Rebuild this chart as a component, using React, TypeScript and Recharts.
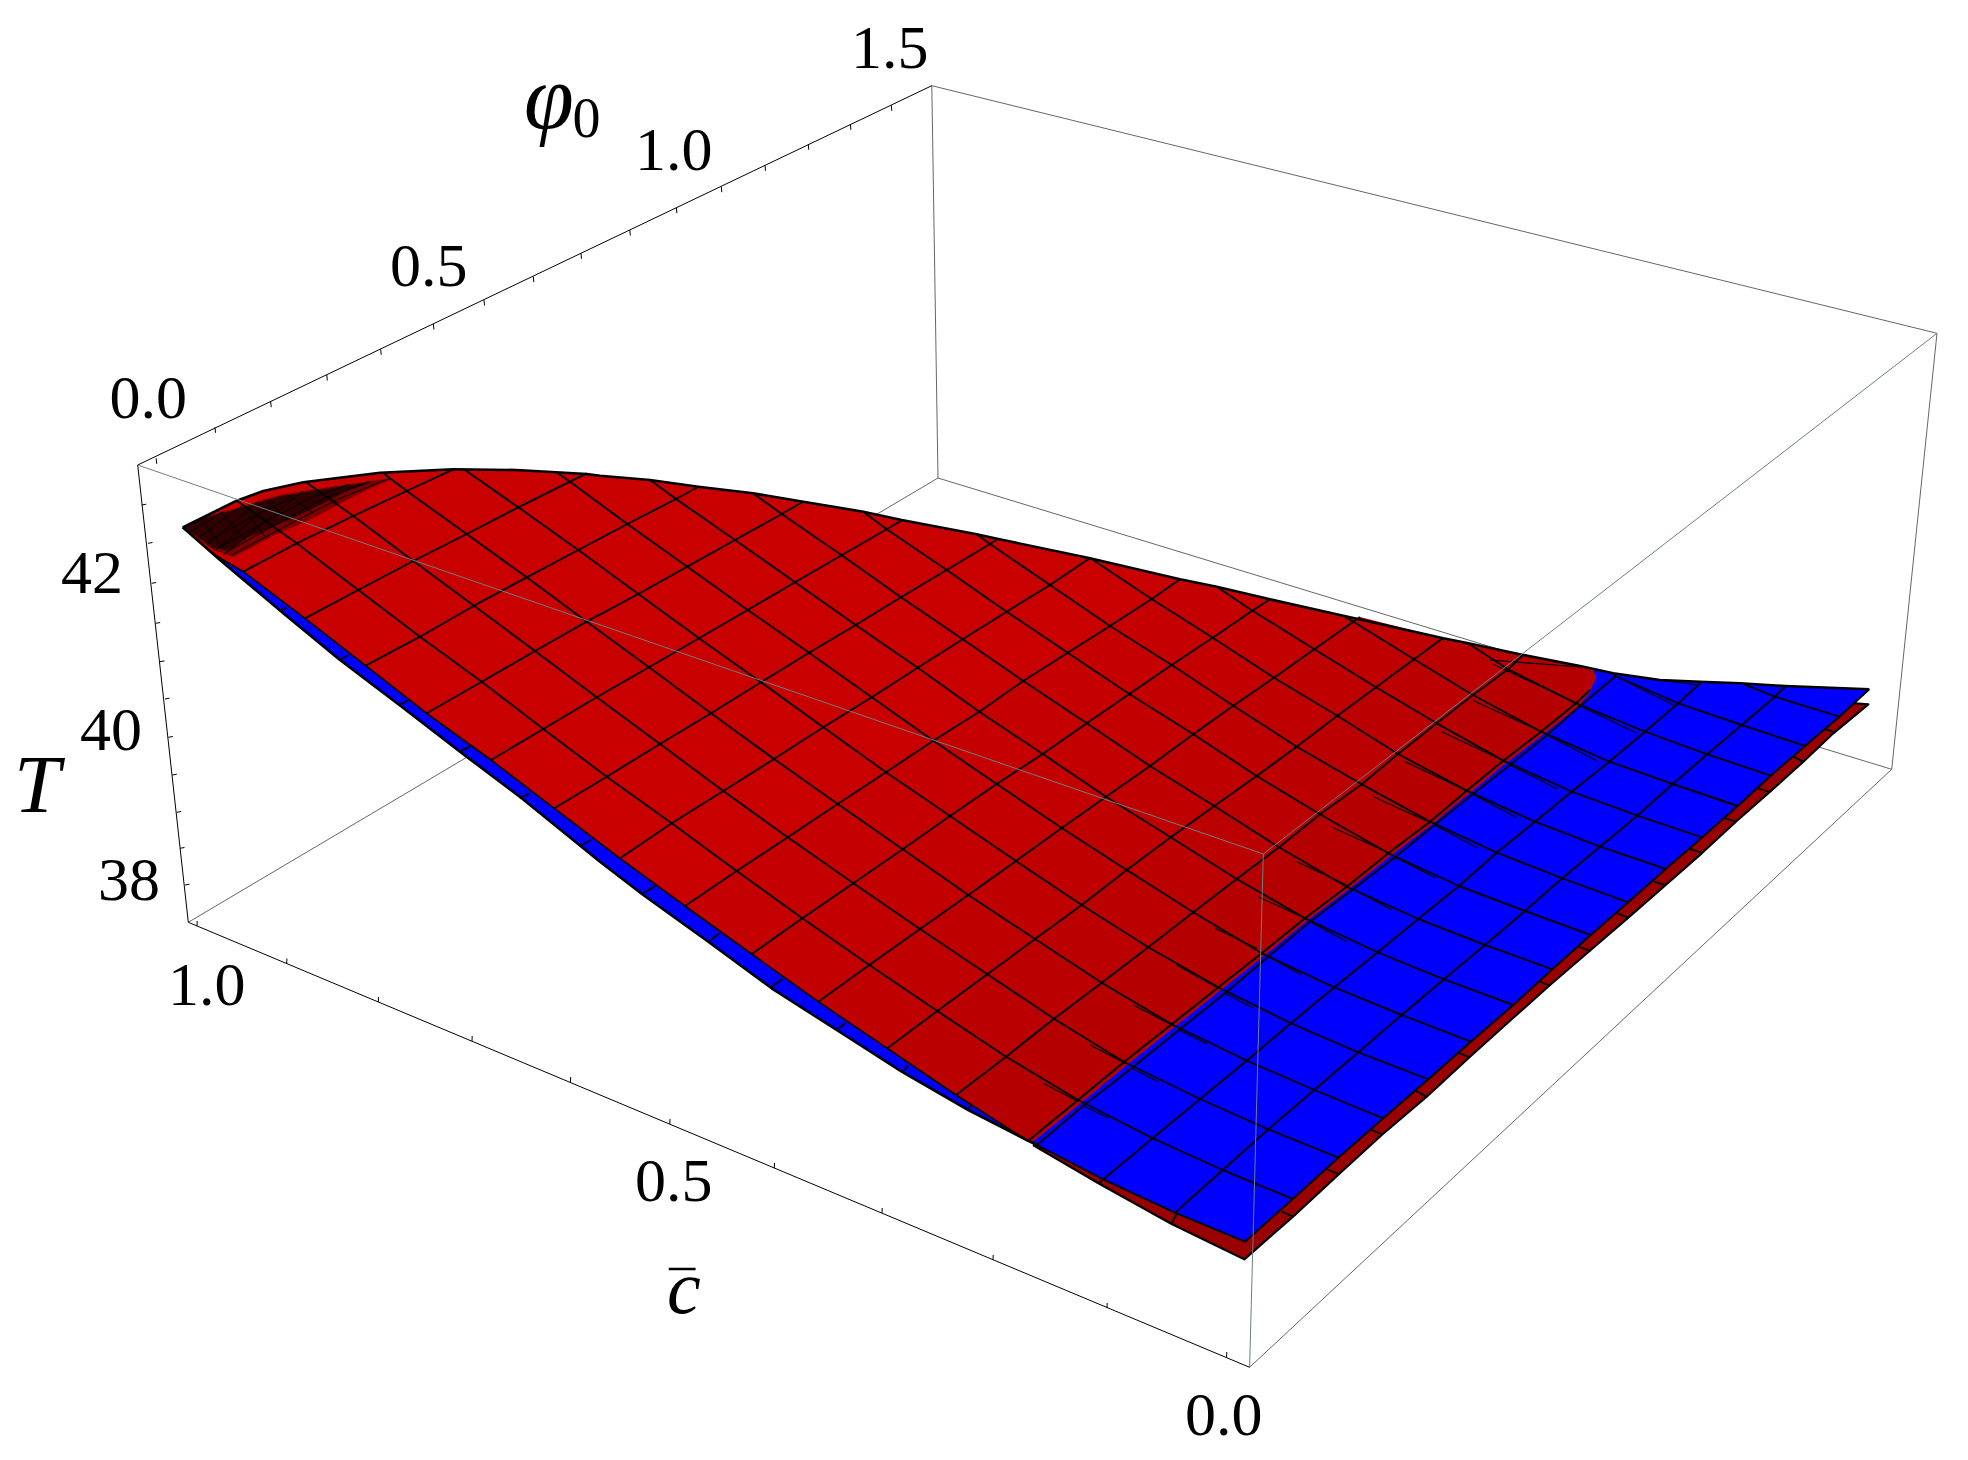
import { ScatterChart, Scatter, XAxis, YAxis } from "recharts";

type P = [number, number];

// picture coordinates (the 3D view is flat here)
const boxBack: P[][] = [
  [[938, 478], [188.3, 922.3]],
  [[938, 478], [1891.7, 769.3]],
];
const boxOuter: P[][] = [
  [[137.7, 465], [931.8, 85.7]],
  [[137.7, 465], [188.3, 922.3]],
  [[188.3, 922.3], [1249.6, 1367.3]],
];
const boxGrey: P[][] = [
  [[931.8, 85.7], [938, 478]],
  [[931.8, 85.7], [1937, 333.3]],
  [[1937, 333.3], [1891.7, 769.3]],
  [[1891.7, 769.3], [1249.6, 1367.3]],
];
const boxFront: P[][] = [
  [[137.7, 465], [1263.3, 854]],
  [[1937, 333.3], [1263.3, 854]],
  [[1263.3, 854], [1249.6, 1367.3]],
];

const phiTicks: P[] = [[156.2, 458.3], [215, 427.3], [270.7, 401.7], [326.8, 375], [380.7, 349.3], [433.4, 324], [484, 300], [533.3, 276.7], [581, 253.3], [629.8, 230], [676.4, 207.7], [721.3, 186.7], [765, 165.3], [808.3, 144.3], [850.4, 124.3], [891.3, 105.3]];
const tempTicks: P[] = [[141.7, 505], [148, 543.3], [151.7, 583.3], [155.7, 623.3], [160, 661.7], [165, 699], [168.3, 737.3], [172.3, 775], [176.7, 812.3], [180, 848.3], [185, 885]];
const concTicks: P[] = [[197, 926], [286.7, 963.5], [378.3, 1002], [472, 1041], [570.5, 1082], [669.8, 1124], [774.3, 1168], [882, 1213], [993, 1260], [1107, 1308], [1226.6, 1357]];

// top silhouette of the surface, left to right
const topEdge: P[] = [[182.7, 527.3], [236.7, 500.7], [263.3, 491], [303.3, 482.3], [380, 472.7], [453.3, 469.3], [516.7, 470], [586.7, 474], [600, 475.7], [650, 480], [698.3, 486.7], [753.3, 493.3], [803.3, 501.7], [863.3, 511.7], [901.7, 520], [976.7, 534.3], [998.3, 539], [1090, 558.3], [1180, 579.3], [1216.7, 586.7], [1270, 599.3], [1343.3, 615.7], [1443.3, 638.3], [1468.3, 643.3], [1523.3, 655], [1580, 666], [1613.3, 673.3], [1660, 680], [1700, 681.7], [1740, 683.3], [1785, 686], [1869.3, 689.3]];
// lower-left silhouette of the blue sheet
const blueFront: P[] = [[182.7, 527.3], [220, 560], [283.3, 613.3], [340, 660], [401.7, 706.7], [460, 751.7], [521.7, 798.3], [600, 861.7], [643.3, 895], [708.3, 941.7], [771.7, 988.3], [836.7, 1030], [901.7, 1071.7], [968.3, 1110], [1026.7, 1140], [1037, 1145]];
const blueFrontRight: P[] = [[1037, 1145], [1103.3, 1179.3], [1175, 1212.7], [1245, 1241.7]];
const blueRight: P[] = [[1245, 1241.7], [1292.7, 1199], [1338.3, 1157.7], [1383.3, 1118.3], [1428.3, 1079.3], [1470.7, 1041.7], [1513.3, 1005], [1552.3, 969.3], [1590.7, 935], [1628.3, 902.3], [1665.7, 869], [1702.3, 837.3], [1737.7, 806], [1770.7, 775.7], [1805, 746], [1839.3, 716.7], [1869.3, 689.3]];
// red sheet showing under the blue one
const underRed: P[] = [[1033, 1145], [1098, 1183], [1171.7, 1224], [1244.3, 1259.3], [1293, 1216.7], [1338, 1175], [1381.7, 1135], [1426.7, 1096.7], [1470, 1056.7], [1513, 1018], [1550, 985], [1590.7, 950], [1628.3, 917.7], [1665.7, 885], [1701.7, 853.3], [1736.7, 821], [1770, 791.7], [1803.3, 761.7], [1833.3, 733.3], [1868.3, 704.3], [1855, 703.3]];
const redTip: P[] = [[1593, 669.5], [1595.7, 678.3], [1590, 690]];
const redFrontLeft: P[] = [[182.7, 527.3], [215, 555]];

// mesh: each row is one "/" line, front point first, then its crossings with the "\" lines, top point last
const meshRows: P[][] = [
  [[243.3, 571.7], [296.7, 543.3], [353.3, 516], [406.7, 491], [453.3, 469.3]],
  [[305, 618.3], [358.3, 590], [413.3, 561], [466.7, 534], [518.3, 507.3], [570, 481.7], [586.7, 473.3]],
  [[365.7, 665.7], [420, 636.7], [474, 605.7], [526.7, 577.3], [578.3, 550], [627.3, 524], [676, 499], [698, 487]],
  [[426.7, 713.3], [481.7, 681.7], [535, 651], [586.7, 621.7], [638.3, 594], [687.3, 566.7], [735, 540], [781.7, 514], [803, 501.7]],
  [[491, 760], [543.3, 729], [596.7, 697.3], [649, 667.3], [699, 638.3], [747.7, 610], [795, 582.3], [841.7, 555.3], [886.7, 529.3], [902.3, 520]],
  [[554.3, 808.3], [606.7, 776.7], [660, 744], [711, 713.3], [761, 682.3], [809, 652.7], [855.7, 625], [901, 597.3], [946.7, 570], [990, 544], [998, 539]],
  [[620, 858.3], [671.7, 823.3], [723.3, 791], [774, 759], [823.3, 727.3], [871.7, 697.3], [917.7, 667.7], [962.7, 639.3], [1006.7, 611.7], [1050, 585], [1090, 558]],
  [[685, 906], [736.7, 871], [787.7, 837.3], [837.7, 804], [886, 772.3], [933.3, 740.7], [979.3, 711.7], [1023.3, 681], [1067.7, 652.7], [1110, 626], [1151.7, 599], [1180, 579.3]],
  [[751.7, 954], [802.3, 918.3], [853.3, 883.3], [902.7, 849.3], [950, 816], [996.7, 784], [1042.7, 754], [1086.7, 723.3], [1129.3, 694], [1171.7, 665], [1212.7, 637.7], [1252.3, 610.7], [1270, 599.3]],
  [[818.3, 1001.7], [869.3, 965], [920, 929], [968.3, 895], [1016, 861], [1061.7, 828], [1106, 796.7], [1150, 766], [1193.3, 734.3], [1233.3, 705.7], [1274, 677.7], [1314.3, 649.3], [1353.3, 621.7], [1360, 617]],
  [[887.3, 1048.3], [937.3, 1011], [987.3, 974.3], [1035, 939], [1081.7, 905], [1126.7, 870], [1170.7, 837.3], [1214.3, 806], [1256.7, 776], [1296.7, 746.7], [1337.3, 715.7], [1376, 687.3], [1414, 659.3], [1442.7, 638.3]],
  [[956, 1095], [1006, 1056.7], [1054, 1018.7], [1101.7, 982.7], [1148.3, 947.3], [1193.3, 912.2], [1236.7, 879], [1279, 847.3], [1320, 814.3], [1361.7, 784.3], [1398, 754], [1436.7, 723.3], [1473, 695], [1508, 669.3], [1523, 655]],
  [[1028, 1141], [1078, 1100], [1124, 1062], [1171.7, 1024.3], [1218.3, 987.3], [1261.7, 953.3], [1305, 918.3], [1346.7, 886.7], [1388.3, 853.3], [1430, 821.7], [1466.7, 790.7], [1503.3, 760.7], [1541, 731.7], [1576, 703.3], [1590, 690]],
  [[1103.3, 1179.3], [1152.7, 1138.3], [1200, 1099], [1246.7, 1060.7], [1291, 1023.3], [1334.3, 987.3], [1377.7, 952.3], [1418.3, 919], [1459, 886], [1496.7, 852.7], [1535, 821.7], [1571.7, 791.7], [1609.3, 761.7], [1645, 731.7], [1678.3, 703.3], [1701.7, 681.7]],
  [[1175, 1212.7], [1222.7, 1170], [1268.3, 1129.3], [1314.3, 1090], [1358.3, 1052.3], [1401.7, 1015], [1444, 979.3], [1485, 945], [1525, 911], [1562.3, 878.3], [1600, 846.7], [1637.3, 815.7], [1672.7, 784], [1707.3, 754.3], [1741.7, 725], [1775, 696.7], [1785.7, 686]],
];
// blue sheet's own line just past the red edge
const blueSeam: P[] = [[1037, 1145], [1083.3, 1105.7], [1131.7, 1068.3], [1179, 1030], [1225, 993.3], [1268.3, 956.7], [1310, 921.7], [1353.3, 889], [1395, 857.3], [1434.3, 825], [1472.7, 794.3], [1510, 765], [1545, 736.7], [1580, 706], [1615, 676.7]];
// thin red margin beyond the last black line on the red sheet
const redRim: P[] = [[1031, 1143], [1081, 1102.5], [1127, 1064.5], [1174.5, 1026.5], [1221, 989.5], [1264.5, 955.2], [1307.5, 920], [1349.5, 888.2], [1391, 855.2], [1432.5, 823.5], [1469.5, 792.7], [1506, 762.7], [1543.5, 734], [1578.5, 705.5], [1590, 692]];
// where the "\" lines begin on the top edge, and where they stop on the right edge
const crossStarts: P[] = [[236.7, 500.7], [306.7, 482.7], [383, 473], [465, 470], [558, 473.3], [650, 480], [753, 493.3], [863, 511.7], [976.7, 534.3], [1093, 560], [1216.7, 586.7], [1343, 615.7], [1468, 643.3], [1613, 675], [1741.7, 683.3]];
const crossEnds: P[] = blueRight.slice(1, 16);

const shadeFrom = [7, 8, 9, 10, 11];
const shadeColors = ["#c50000", "#c20000", "#be0000", "#ba0000", "#b50000"];

const blueDividers: P[][] = [
  [[281.7, 610], [286.7, 607.7]], [[340, 660], [348.3, 655]], [[399.3, 705], [408.3, 700]], [[459.3, 751.7], [470, 746.7]], [[520, 798.3], [529.3, 793.3]], [[581.7, 845], [591, 840]],
  [[643.3, 893.3], [655, 886]], [[708.3, 941.7], [719.3, 933.3]], [[771.7, 986.7], [782.7, 979]], [[836, 1030], [846, 1022.7]], [[902.7, 1071.7], [908.3, 1065.7]], [[968.3, 1108.3], [971.7, 1105]],
];
const redDividers: P[][] = [
  [[1825, 729], [1835, 732.3]], [[1793.3, 756.7], [1803.3, 761.7]], [[1758.3, 788.3], [1768.3, 791.7]], [[1725, 818.3], [1736, 821.7]], [[1690, 849], [1701, 852.3]], [[1654, 881.7], [1665, 885]], [[1617.3, 913.3], [1628.3, 917.7]], [[1578.3, 946.7], [1590.7, 951]], [[1540, 981.7], [1550, 985.7]],
  [[1459.3, 1053.3], [1470, 1057.3]], [[1416, 1091], [1426.7, 1096.7]], [[1371.7, 1130], [1382.7, 1134.3]], [[1327.3, 1169.3], [1338.3, 1174]], [[1281.7, 1211.7], [1293.3, 1216.7]], [[1171.7, 1224], [1176.7, 1213.3]], [[1098.3, 1183.3], [1103.3, 1179.3]],
];
// the doubled strokes where the two sheets cross
const foldStrokes: P[][] = [
  [[1296.7, 861.7], [1346.7, 885]], [[1333.3, 827.7], [1388.3, 852.7]], [[1373.3, 796.7], [1428.3, 821.7]], [[1405, 761.7], [1466.7, 790.7]], [[1441.7, 731.7], [1503.3, 760.7]], [[1473.3, 700.7], [1541.7, 731.7]], [[1493.3, 664.3], [1576.7, 703.3]], [[1258.3, 896.7], [1305, 918.3]], [[1215, 928.3], [1256.7, 948.3]], [[1176.7, 965], [1218.3, 988.3]], [[1133.3, 1005], [1171.7, 1025]], [[1090, 1045], [1125, 1063.3]], [[1043.3, 1083.3], [1078.3, 1101.7]],
  [[1083.3, 1105.7], [1108.3, 1118.3]], [[1131.7, 1068.3], [1158.3, 1081.7]], [[1179, 1030], [1206.7, 1044]], [[1225, 993.3], [1253.3, 1008.3]], [[1268.3, 956.7], [1301.7, 975]], [[1310, 921.7], [1346.7, 941.7]], [[1353.3, 889], [1391.7, 910]], [[1395, 857.3], [1435, 877.7]], [[1434.3, 825], [1476.7, 847.7]], [[1472.7, 794.3], [1516.7, 817.7]], [[1510, 765], [1556.7, 788.7]], [[1546.7, 735], [1596.7, 760.7]], [[1580, 706], [1636.7, 733.3]], [[1616.7, 676.7], [1673.3, 705]], [[1660, 680], [1696.7, 685]], [[1490, 660], [1580, 667]],
];
const hatchFringe: P[] = [[182.7, 526.7], [203.3, 516.7], [230, 510], [256.7, 501.7], [280, 495], [310, 490], [343.3, 485], [390, 478.3], [390, 480], [366.7, 490], [343, 502], [313.3, 518], [293.3, 527], [276.7, 534], [263.3, 541], [246.7, 550], [233, 557], [213.3, 550]];
const hatchCore: P[] = [[184, 527], [203.3, 518], [230, 511], [256.7, 503], [280, 496.5], [310, 491.5], [343.3, 486], [372, 482], [345, 492], [320, 505], [293, 518], [270, 528], [248, 537], [228, 550], [213.3, 548]];
const hatchLines: P[][] = [
  [[190, 531.7], [223.3, 511.7]], [[198.3, 538.3], [238.3, 508.3]], [[205, 543], [250, 518], [290, 499]], [[206.7, 545], [258.3, 501.7]], [[215, 550.7], [280, 496]], [[218, 548], [265, 522], [310, 498], [350, 484]], [[223.3, 555], [303.3, 491]], [[226, 552], [275, 525], [325, 498], [370, 481]], [[231.7, 555], [286, 526], [336, 500], [390, 478]],
  [[220, 511.7], [246.7, 541.7]], [[240, 506], [265, 536]], [[263.3, 499.3], [293.3, 523.3]], [[286.7, 494.3], [313.3, 513.3]], [[310, 490], [336.7, 501.7]], [[200, 518], [225, 550]],
];

const tickLabels = [
  { x: 109.6, y: 418, text: "0.0" }, { x: 390, y: 285.5, text: "0.5" }, { x: 635, y: 170, text: "1.0" }, { x: 851, y: 68, text: "1.5" },
  { x: 61, y: 593, text: "42" }, { x: 80, y: 749.7, text: "40" }, { x: 98, y: 899.7, text: "38" },
  { x: 168, y: 1005, text: "1.0" }, { x: 635, y: 1200.7, text: "0.5" }, { x: 1185, y: 1435, text: "0.0" },
];
const axisTitles = [
  { x: 524, y: 128, text: "φ", size: 90, italic: true },
  { x: 572.6, y: 137, text: "0", size: 56, italic: false },
  { x: 14, y: 811.7, text: "T", size: 83, italic: true },
  { x: 667, y: 1313, text: "c", size: 76, italic: true },
];
const cBar: P[] = [[668.7, 1269], [695.6, 1269]];

const SERIF = '"Liberation Serif", serif';
const Empty = () => <g />;
const toRows = (pts: P[]) => pts.map(([x, y]) => ({ x, y }));

const path = (key: string, pts: P[], stroke: string, width: number, fill = "none") => (
  <Scatter
    key={key}
    data={toRows(pts)}
    shape={Empty}
    line={{ stroke, strokeWidth: width, fill, strokeLinejoin: "round" }}
    isAnimationActive={false}
  />
);

const tickMarks = (key: string, pts: P[], dx: number, dy: number) => (
  <Scatter
    key={key}
    data={toRows(pts)}
    isAnimationActive={false}
    shape={(p: any) => <line x1={p.cx} y1={p.cy} x2={p.cx + dx} y2={p.cy + dy} stroke="#000" strokeWidth={1} />}
  />
);

const crossLine = (k: number): P[] => {
  const pts: P[] = [crossStarts[k]];
  meshRows.forEach((row) => {
    if (k + 1 <= row.length - 2) pts.push(row[k + 1]);
  });
  pts.push(crossEnds[k]);
  return pts;
};

const redFront: P[] = [...redFrontLeft, ...meshRows.slice(0, 13).map((r) => r[0])];
const redSheet: P[] = [
  ...topEdge.filter((p) => p[0] < 1590),
  ...redTip,
  ...redRim.slice().reverse(),
  ...redFront.slice().reverse(),
];
const shadeArea = (i: number): P[] => {
  const row = meshRows[i];
  const end = row[row.length - 1];
  return [
    ...row,
    ...topEdge.filter((p) => p[0] > end[0] && p[0] < 1590),
    ...redTip,
    ...redRim.slice().reverse(),
    ...meshRows.slice(i, 13).map((r) => r[0]).reverse(),
  ];
};

export default function App() {
  return (
    <div style={{ position: "absolute", left: 0, top: 0, width: 1968, height: 1460, background: "#fff" }}>
      <ScatterChart width={1968} height={1460} margin={{ top: 0, right: 0, bottom: 0, left: 0 }}>
        <XAxis type="number" dataKey="x" domain={[0, 1968]} hide />
        <YAxis type="number" dataKey="y" domain={[0, 1460]} reversed hide />

        {boxBack.map((l, i) => path(`back${i}`, l, "#666", 1))}
        {boxGrey.map((l, i) => path(`grey${i}`, l, "#666", 1))}
        {boxOuter.map((l, i) => path(`outer${i}`, l, "#000", 1))}
        {tickMarks("phiTicks", phiTicks, 0.5, 5.5)}
        {tickMarks("tempTicks", tempTicks, 4.5, -0.8)}
        {tickMarks("concTicks", concTicks, 0.2, -5)}

        {path("underRed", underRed, "#000", 2.2, "#990000")}
        {path("blue", [...topEdge, ...blueRight.slice().reverse(), ...blueFrontRight.slice().reverse(), ...blueFront.slice().reverse()], "none", 0, "#0000ff")}
        {path("red", redSheet, "none", 0, "#c80000")}
        {shadeFrom.map((i, n) => path(`shade${i}`, shadeArea(i), "none", 0, shadeColors[n]))}

        {path("hatchFringe", hatchFringe, "none", 0, "#7a0000")}
        {path("hatchCore", hatchCore, "none", 0, "#300000")}
        {hatchLines.map((l, i) => path(`hatch${i}`, l, "#000", 1))}

        {blueDividers.map((l, i) => path(`bd${i}`, l, "#000", 1.9))}
        {redDividers.map((l, i) => path(`rd${i}`, l, "#000", 1.9))}
        {meshRows.map((row, i) => path(`row${i}`, row, "#000", 1.9))}
        {crossStarts.map((_, k) => path(`cross${k}`, crossLine(k), "#000", 1.9))}
        {path("seam", blueSeam, "#000", 1.9)}
        {foldStrokes.map((l, i) => path(`fold${i}`, l, "#000", 1.2))}

        {path("topEdge", topEdge, "#000", 2.6)}
        {path("blueFront", blueFront, "#000", 2.6)}
        {path("blueFrontRight", blueFrontRight, "#000", 1.9)}
        {path("blueRight", blueRight, "#000", 1.9)}
        {path("redFront", redFront, "#000", 1.6)}

        {boxFront.map((l, i) => path(`front${i}`, l, "#6f7f80", 1))}

        <Scatter
          data={tickLabels}
          isAnimationActive={false}
          shape={(p: any) => (
            <text x={p.cx} y={p.cy} fontFamily={SERIF} fontSize={62} fill="#000">
              {p.payload.text}
            </text>
          )}
        />
        <Scatter
          data={axisTitles}
          isAnimationActive={false}
          shape={(p: any) => (
            <text x={p.cx} y={p.cy} fontFamily={SERIF} fontSize={p.payload.size} fontStyle={p.payload.italic ? "italic" : "normal"} fill="#000">
              {p.payload.text}
            </text>
          )}
        />
        {path("cBar", cBar, "#000", 2.5)}
      </ScatterChart>
    </div>
  );
}
